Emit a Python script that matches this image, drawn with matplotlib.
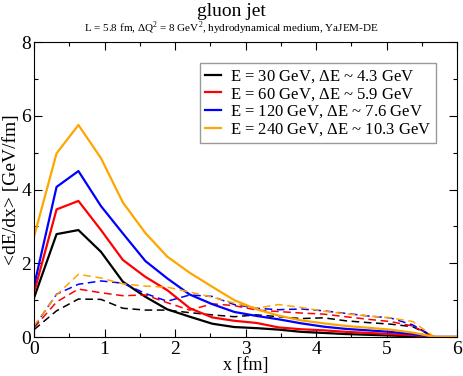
import numpy as np
import matplotlib
matplotlib.use("Agg")
import matplotlib.pyplot as plt
from matplotlib.ticker import MultipleLocator

plt.rcParams["font.family"] = ["Liberation Serif", "DejaVu Serif"]
plt.rcParams["mathtext.fontset"] = "custom"
plt.rcParams["mathtext.rm"] = "Liberation Serif"

# positions along the path (fm)
x = [0, 0.32, 0.63, 0.95, 1.26, 1.58, 1.89, 2.21, 2.53, 2.84,
     3.16, 3.47, 3.79, 4.11, 4.42, 4.74, 5.05, 5.37, 5.68, 6.0]

# solid curves
e30 = [1.06, 2.79, 2.9, 2.31, 1.5, 1.09, 0.75, 0.55, 0.36, 0.27,
       0.24, 0.2, 0.14, 0.11, 0.08, 0.06, 0.04, 0.02, 0.0, 0.0]
e60 = [1.2, 3.46, 3.69, 2.9, 2.09, 1.63, 1.27, 0.78, 0.53, 0.44,
       0.38, 0.26, 0.21, 0.18, 0.14, 0.11, 0.08, 0.05, 0.0, 0.0]
e120 = [1.38, 4.07, 4.5, 3.55, 2.81, 2.06, 1.59, 1.15, 0.89, 0.68,
        0.57, 0.48, 0.37, 0.28, 0.22, 0.18, 0.14, 0.08, 0.0, 0.0]
e240 = [2.72, 4.98, 5.75, 4.85, 3.65, 2.82, 2.18, 1.74, 1.36, 1.0,
        0.75, 0.58, 0.45, 0.37, 0.3, 0.25, 0.2, 0.12, 0.0, 0.0]

# dashed curves
d30 = [0.2, 0.71, 1.03, 1.02, 0.78, 0.73, 0.73, 0.66, 0.6, 0.55,
       0.6, 0.55, 0.5, 0.52, 0.44, 0.39, 0.35, 0.28, 0.0, 0.0]
d60 = [0.25, 0.95, 1.3, 1.2, 1.12, 1.14, 0.93, 0.73, 0.9, 0.85,
       0.73, 0.69, 0.65, 0.62, 0.55, 0.48, 0.42, 0.3, 0.0, 0.0]
d120 = [0.27, 1.16, 1.43, 1.52, 1.46, 1.18, 0.97, 1.14, 1.1, 0.88,
        0.78, 0.74, 0.76, 0.71, 0.64, 0.57, 0.52, 0.33, 0.0, 0.0]
d240 = [0.3, 1.14, 1.7, 1.6, 1.44, 1.38, 1.35, 1.22, 1.08, 0.92,
        0.78, 0.88, 0.8, 0.7, 0.63, 0.57, 0.52, 0.42, 0.0, 0.0]

labels = [r"E = 30 GeV, $\Delta$E ~ 4.3 GeV",
          r"E = 60 GeV, $\Delta$E ~ 5.9 GeV",
          r"E = 120 GeV, $\Delta$E ~ 7.6 GeV",
          r"E = 240 GeV, $\Delta$E ~ 10.3 GeV"]
colors = ["black", "red", "blue", "orange"]

fig = plt.figure(figsize=(4.63, 3.76), dpi=100)
ax = fig.add_axes([34 / 463, 39 / 376, 423 / 463, 295 / 376])

for sol, das, c, lab in zip([e30, e60, e120, e240], [d30, d60, d120, d240], colors, labels):
    ax.plot(x, sol, color=c, lw=1.6, label=lab)
    ax.plot(x, das, color=c, lw=1.1, ls=(0, (5, 3)))

ax.set_xlim(0, 6)
ax.set_ylim(0, 8)
ax.xaxis.set_major_locator(MultipleLocator(1))
ax.xaxis.set_minor_locator(MultipleLocator(0.5))
ax.yaxis.set_major_locator(MultipleLocator(2))
ax.yaxis.set_minor_locator(MultipleLocator(1))
ax.tick_params(which="both", direction="in", top=True, right=True, labelsize=14, width=0.8)
ax.tick_params(which="major", length=6)
ax.tick_params(which="minor", length=3)
ax.tick_params(axis="x", pad=3)
ax.tick_params(axis="y", pad=2)

ax.set_xlabel("x [fm]", fontsize=13, labelpad=-1)
ax.set_ylabel("<dE/dx> [GeV/fm]", fontsize=14, labelpad=1)

fig.text(0.5, 1 - 11 / 376, "gluon jet", ha="center", va="center", fontsize=14)
fig.text(0.5, 1 - 28 / 376, r"L = 5.8 fm, $\Delta$Q$^2$ = 8 GeV$^2$, hydrodynamical medium, YaJEM-DE",
         ha="center", va="center", fontsize=8)

leg = ax.legend(loc="upper right", bbox_to_anchor=((436 - 34) / 423, 1 - 21 / 295),
                fontsize=12, frameon=True, fancybox=False, handlelength=1.0,
                handletextpad=0.5, borderpad=0.3, labelspacing=0.07, borderaxespad=0)
leg.get_frame().set_edgecolor("gray")
leg.get_frame().set_linewidth(1.0)

fig.savefig("out.png", dpi=100)
